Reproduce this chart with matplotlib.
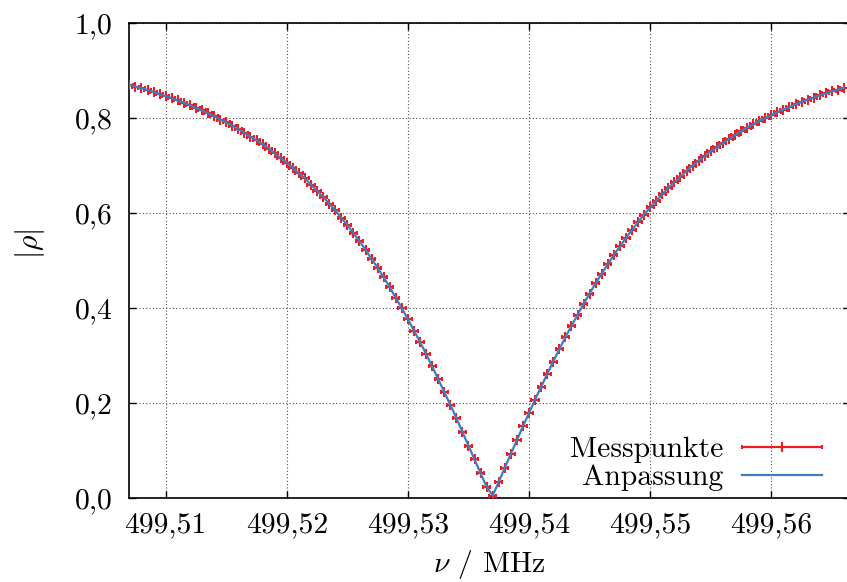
import matplotlib
matplotlib.use('Agg')
import matplotlib.pyplot as plt
from matplotlib.legend_handler import HandlerErrorbar
from matplotlib.container import ErrorbarContainer

# frequency grid in MHz (step 0.5 kHz)
freq = [
    499.5070, 499.5075, 499.5080, 499.5085, 499.5090, 499.5095, 499.5100, 499.5105,
    499.5110, 499.5115, 499.5120, 499.5125, 499.5130, 499.5135, 499.5140, 499.5145,
    499.5150, 499.5155, 499.5160, 499.5165, 499.5170, 499.5175, 499.5180, 499.5185,
    499.5190, 499.5195, 499.5200, 499.5205, 499.5210, 499.5215, 499.5220, 499.5225,
    499.5230, 499.5235, 499.5240, 499.5245, 499.5250, 499.5255, 499.5260, 499.5265,
    499.5270, 499.5275, 499.5280, 499.5285, 499.5290, 499.5295, 499.5300, 499.5305,
    499.5310, 499.5315, 499.5320, 499.5325, 499.5330, 499.5335, 499.5340, 499.5345,
    499.5350, 499.5355, 499.5360, 499.5365, 499.5370, 499.5375, 499.5380, 499.5385,
    499.5390, 499.5395, 499.5400, 499.5405, 499.5410, 499.5415, 499.5420, 499.5425,
    499.5430, 499.5435, 499.5440, 499.5445, 499.5450, 499.5455, 499.5460, 499.5465,
    499.5470, 499.5475, 499.5480, 499.5485, 499.5490, 499.5495, 499.5500, 499.5505,
    499.5510, 499.5515, 499.5520, 499.5525, 499.5530, 499.5535, 499.5540, 499.5545,
    499.5550, 499.5555, 499.5560, 499.5565, 499.5570, 499.5575, 499.5580, 499.5585,
    499.5590, 499.5595, 499.5600, 499.5605, 499.5610, 499.5615, 499.5620, 499.5625,
    499.5630, 499.5635, 499.5640, 499.5645, 499.5650, 499.5655, 499.5660,
]

# measured |rho|
rho = [
    0.870, 0.866, 0.863, 0.859, 0.855, 0.850, 0.846, 0.842,
    0.837, 0.832, 0.827, 0.821, 0.816, 0.810, 0.804, 0.797,
    0.791, 0.784, 0.777, 0.769, 0.761, 0.753, 0.745, 0.736,
    0.726, 0.716, 0.706, 0.695, 0.684, 0.673, 0.660, 0.647,
    0.634, 0.620, 0.606, 0.590, 0.575, 0.558, 0.541, 0.523,
    0.504, 0.485, 0.465, 0.444, 0.422, 0.400, 0.377, 0.353,
    0.329, 0.304, 0.278, 0.251, 0.224, 0.197, 0.169, 0.140,
    0.111, 0.082, 0.053, 0.024, 0.006, 0.035, 0.065, 0.094,
    0.123, 0.152, 0.180, 0.208, 0.235, 0.262, 0.288, 0.314,
    0.339, 0.363, 0.386, 0.409, 0.431, 0.453, 0.473, 0.493,
    0.512, 0.530, 0.548, 0.565, 0.581, 0.597, 0.612, 0.626,
    0.640, 0.653, 0.665, 0.677, 0.689, 0.700, 0.710, 0.720,
    0.730, 0.739, 0.748, 0.756, 0.764, 0.772, 0.780, 0.787,
    0.794, 0.800, 0.806, 0.812, 0.818, 0.823, 0.829, 0.834,
    0.839, 0.843, 0.848, 0.852, 0.856, 0.860, 0.864,
]

# fitted curve, evaluated at the same frequencies
fit = rho

freq_err = 0.0003

x_ticks = [499.51, 499.52, 499.53, 499.54, 499.55, 499.56]
x_tick_labels = ['499,51', '499,52', '499,53', '499,54', '499,55', '499,56']
y_ticks = [0.0, 0.2, 0.4, 0.6, 0.8, 1.0]
y_tick_labels = ['0,0', '0,2', '0,4', '0,6', '0,8', '1,0']

plt.rcParams['font.family'] = 'cmr10'
plt.rcParams['mathtext.fontset'] = 'cm'
plt.rcParams['axes.unicode_minus'] = False
plt.rcParams['font.size'] = 21.4

fig = plt.figure(figsize=(8.47, 5.82), dpi=100)
ax = fig.add_axes([0.1527, 0.1435, 0.8509, 0.817])

meas = ax.errorbar(freq, rho, xerr=freq_err, fmt='|', color='#ee1c22', ecolor='#ee1c22',
                   ms=7, mew=1.5, elinewidth=1.6, capsize=1.5, capthick=1.2,
                   label='Messpunkte', zorder=3)
line, = ax.plot(freq, fit, color='#3b7fc0', lw=1.6, label='Anpassung', zorder=4)

ax.set_xlim(499.507, 499.5665)
ax.set_ylim(0.0, 1.0)
ax.set_xticks(x_ticks)
ax.set_xticklabels(x_tick_labels)
ax.set_yticks(y_ticks)
ax.set_yticklabels(y_tick_labels)
ax.tick_params(direction='in', top=True, right=True, length=5, width=1.0)
ax.tick_params(axis='x', pad=10)
ax.tick_params(axis='y', pad=12)
for s in ax.spines.values():
    s.set_linewidth(1.2)

ax.grid(True, color='0.3', linestyle=(0, (1, 2)), linewidth=0.8)
ax.set_axisbelow(True)

ax.set_xlabel(r'$\nu$ / MHz', labelpad=7)
ax.set_ylabel(r'$|\rho|$')
ax.yaxis.set_label_coords(-0.114, 0.535)

ax.legend([meas, line], ['Messpunkte', 'Anpassung'],
          loc='lower right', bbox_to_anchor=(0.961, 0.015), frameon=False,
          markerfirst=False, handlelength=2.7, handletextpad=0.62,
          labelspacing=0.05, borderpad=0, borderaxespad=0, numpoints=1,
          handler_map={ErrorbarContainer: HandlerErrorbar(xerr_size=1.35)})

fig.savefig('out.png', dpi=100)
